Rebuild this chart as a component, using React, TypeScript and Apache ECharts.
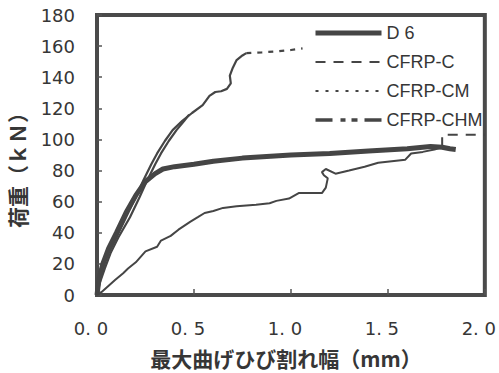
import React, { useEffect, useRef } from "react";
import * as echarts from "echarts";

// 最大曲げひび割れ幅 (mm) / 荷重 (kN)
const d6X = [0, 0.01, 0.03, 0.06, 0.1, 0.15, 0.2, 0.25, 0.3, 0.34, 0.4, 0.5, 0.6, 0.75, 1.0, 1.2, 1.4, 1.6, 1.72, 1.78, 1.82, 1.85];
const d6Y = [0, 10, 20, 30, 40, 53, 64, 73, 78, 81, 82.5, 84, 86, 88, 90, 91, 92.5, 94, 95.5, 95, 94, 93.5];

const cBodyX = [0, 0.024, 0.06, 0.093, 0.135, 0.16, 0.2, 0.25, 0.31, 0.33, 0.38, 0.42, 0.48, 0.52, 0.555, 0.6, 0.65, 0.72, 0.82, 0.89, 0.925, 0.99, 1.04, 1.1, 1.16, 1.18, 1.19, 1.17, 1.16, 1.18, 1.23, 1.3, 1.38, 1.45, 1.52, 1.59, 1.62, 1.68, 1.74, 1.78];
const cBodyY = [0, 2, 6, 9.6, 14, 17, 21, 28, 31, 35, 38, 42, 47, 50, 52.7, 54, 56, 57, 58, 59, 60.5, 62, 65.5, 65.5, 65.5, 69, 75, 77, 79, 81, 78, 80, 82.5, 85, 86, 87, 91, 92, 93.5, 95];
const cTailX = [1.78, 1.78, 2.0];
const cTailY = [95, 103, 103];

const cmBodyX = [0, 0.01, 0.03, 0.06, 0.1, 0.15, 0.2, 0.24, 0.28, 0.31, 0.35, 0.39, 0.44, 0.49, 0.545, 0.58, 0.61, 0.64, 0.67, 0.69, 0.685, 0.7, 0.72, 0.75, 0.77];
const cmBodyY = [0, 8, 17, 27, 37, 50, 63, 74, 84, 91, 99, 106, 112, 117, 122, 128, 130.5, 131, 132.5, 136, 141, 146, 151, 154, 155.5];
const cmTailX = [0.77, 0.85, 0.92, 1.0, 1.06];
const cmTailY = [155.5, 156, 156.5, 157.5, 158.5];

const chmX = [0, 0.015, 0.04, 0.07, 0.11, 0.17, 0.22, 0.26, 0.3, 0.33, 0.37, 0.41, 0.45, 0.475];
const chmY = [0, 8, 17, 27, 37, 50, 63, 74, 84, 91, 99, 106, 112, 116];

const xTicks = ["0. 0", "0. 5", "1. 0", "1. 5", "2. 0"];
const legendNames = ["D 6", "CFRP-C", "CFRP-CM", "CFRP-CHM"];

const zip = (xs: number[], ys: number[]) => xs.map((x, i) => [x, ys[i]]);

const LINE = "#454545";
const TEXT = "#363636";

export default function App() {
  const ref = useRef<HTMLDivElement>(null);
  useEffect(() => {
    if (!ref.current) return;
    const chart = echarts.init(ref.current, null, { renderer: "svg" });
    const mk = (name: string, data: number[][], width: number, type: any) => ({
      name,
      type: "line",
      data,
      symbol: "none",
      showSymbol: false,
      smooth: false,
      clip: true,
      itemStyle: { color: LINE },
      lineStyle: { color: LINE, width, type },
    });
    const hidden = { color: "rgba(0,0,0,0)", opacity: 0, borderWidth: 0 };
    chart.setOption({
      animation: false,
      backgroundColor: "#fff",
      grid: { left: 97, right: 14, top: 15, bottom: 78, show: true, borderColor: "#4a4a4a", borderWidth: 4, backgroundColor: "transparent" },
      xAxis: {
        type: "value",
        min: 0,
        max: 2,
        interval: 0.5,
        axisLine: { show: false },
        splitLine: { show: false },
        axisTick: { show: true, inside: true, length: 6, lineStyle: { color: "#555", width: 1.5 } },
        axisLabel: {
          margin: 24,
          color: TEXT,
          fontSize: 18,
          fontFamily: "DejaVu Sans",
          padding: [0, 12, 0, 0],
          formatter: (v: number) => xTicks[Math.round(v / 0.5)] ?? "",
        },
      },
      yAxis: {
        type: "value",
        min: 0,
        max: 180,
        interval: 20,
        axisLine: { show: false },
        splitLine: { show: false },
        axisTick: { show: true, inside: true, length: 5, lineStyle: { color: "#555", width: 1.5 } },
        axisLabel: { margin: 22, color: TEXT, fontSize: 18, fontFamily: "DejaVu Sans" },
      },
      legend: {
        orient: "vertical",
        left: 313,
        top: 24,
        padding: 0,
        itemWidth: 66,
        itemHeight: 14,
        itemGap: 11,
        itemStyle: hidden,
        textStyle: { color: TEXT, fontSize: 18, fontFamily: "Liberation Sans" },
        data: [
          { name: legendNames[0], itemStyle: hidden, lineStyle: { color: LINE, width: 5, type: "solid" } },
          { name: legendNames[1], itemStyle: hidden, lineStyle: { color: LINE, width: 2, type: [10, 8] } },
          { name: legendNames[2], itemStyle: hidden, lineStyle: { color: LINE, width: 2, type: [3, 7] } },
          { name: legendNames[3], itemStyle: hidden, lineStyle: { color: LINE, width: 3.5, type: [17, 8, 5, 6, 6, 7] } },
        ],
      },
      series: [
        mk("_c", zip(cBodyX, cBodyY), 2, "solid"),
        mk(legendNames[1], zip(cTailX, cTailY), 2, [10, 8]),
        mk("_chm", zip(chmX, chmY), 2.2, "solid"),
        mk(legendNames[3], [], 2, "solid"),
        mk("_cm", zip(cmBodyX, cmBodyY), 2.2, "solid"),
        mk(legendNames[2], zip(cmTailX, cmTailY), 2.2, [5, 6]),
        mk(legendNames[0], zip(d6X, d6Y), 5, "solid"),
      ],
      graphic: [
        {
          type: "text",
          x: 17,
          y: 165,
          rotation: Math.PI / 2,
          style: {
            text: "荷重（ｋＮ）",
            fill: TEXT,
            font: "bold 21px 'Noto Sans CJK JP'",
            align: "center",
            verticalAlign: "middle",
          },
        },
        {
          type: "text",
          x: 286,
          y: 358,
          style: {
            text: "最大曲げひび割れ幅（mm）",
            fill: TEXT,
            font: "bold 21px 'Noto Sans CJK JP'",
            align: "center",
            verticalAlign: "middle",
          },
        },
      ],
    });
    return () => chart.dispose();
  }, []);
  return <div ref={ref} style={{ width: 499, height: 373, position: "absolute", left: 0, top: 0 }} />;
}
